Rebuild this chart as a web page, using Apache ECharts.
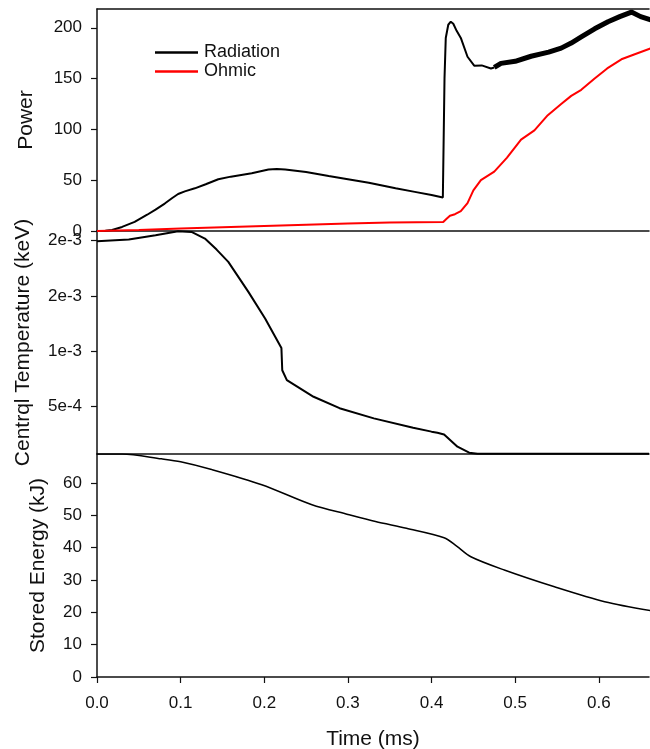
<!DOCTYPE html>
<html>
<head>
<meta charset="utf-8">
<script src="https://cdn.jsdelivr.net/npm/echarts@6/dist/echarts.min.js"></script>
<style>
  html, body { margin: 0; padding: 0; background: #fff; }
  #chart { width: 650px; height: 749px; }
</style>
</head>
<body>
<div id="chart"></div>
<script>
// Power (top panel): [time ms, power]
const radiation = [
  [0, 0], [0.01, 0.3], [0.018, 1], [0.03, 4], [0.045, 9], [0.06, 16], [0.07, 21],
  [0.081, 27], [0.09, 32.5], [0.097, 36.4], [0.105, 39], [0.117, 42], [0.13, 46],
  [0.145, 50.9], [0.16, 53.5], [0.185, 56.8], [0.205, 60.5], [0.215, 61], [0.225, 60.6],
  [0.25, 58], [0.277, 54.1], [0.3, 51], [0.325, 47.5], [0.357, 42], [0.38, 38.5],
  [0.4, 35.5], [0.4135, 33], [0.4155, 150], [0.417, 190], [0.42, 203], [0.423, 206],
  [0.426, 204], [0.43, 197], [0.435, 190], [0.443, 171.5], [0.451, 162.7], [0.46, 163],
  [0.471, 160], [0.475, 161]
];
// noisy late phase of the radiated power
const radiationLate = [
  [0.475, 161], [0.483, 165], [0.5, 167], [0.519, 172], [0.54, 176], [0.555, 180],
  [0.567, 185], [0.579, 191], [0.595, 199], [0.611, 206], [0.625, 211], [0.639, 215.5],
  [0.65, 211], [0.663, 207.5]
];
const ohmic = [
  [0, 0], [0.05, 1], [0.1, 2.5], [0.15, 3.8], [0.2, 5], [0.25, 6.2], [0.3, 7.3],
  [0.35, 8.3], [0.414, 8.8], [0.418, 12], [0.422, 15], [0.428, 16.5], [0.435, 19.5],
  [0.443, 27.5], [0.45, 40], [0.459, 50], [0.475, 58.5], [0.49, 72], [0.507, 90],
  [0.523, 99], [0.539, 114], [0.555, 125], [0.567, 133], [0.579, 139], [0.595, 150],
  [0.61, 160], [0.627, 169], [0.643, 174], [0.663, 180]
];
// Central temperature (middle panel): [time ms, keV]
const temperature = [
  [0, 1.995e-3], [0.038, 2.011e-3], [0.07, 2.05e-3], [0.097, 2.086e-3], [0.113, 2.08e-3],
  [0.129, 2.02e-3], [0.143, 1.92e-3], [0.157, 1.809e-3], [0.181, 1.538e-3],
  [0.201, 1.298e-3], [0.2205, 1.03e-3], [0.2215, 8.3e-4], [0.227, 7.41e-4],
  [0.259, 5.9e-4], [0.29, 4.87e-4], [0.2905, 5.05e-4], [0.331, 3.95e-4], [0.378, 3.1e-4],
  [0.379, 2.95e-4], [0.4, 2.75e-4], [0.407, 2.65e-4], [0.415, 2.5e-4], [0.431, 1.39e-4],
  [0.445, 8.5e-5], [0.455, 7.6e-5], [0.66, 7.6e-5]
];
// Stored energy (bottom panel): [time ms, kJ]
const storedEnergy = [
  [0, 69], [0.03, 69], [0.077, 67.5], [0.1, 66.6], [0.137, 64.2], [0.197, 59.5],
  [0.257, 53.3], [0.3, 50.3], [0.333, 48.1], [0.37, 46], [0.415, 43.1], [0.43, 40.5],
  [0.447, 37.2], [0.487, 33.1], [0.547, 27.9], [0.607, 23.3], [0.663, 20.5]
];
const tempTicks = [5e-4, 1e-3, 1.5e-3, 2e-3];
const tempTickLabels = ['5e-4', '1e-3', '2e-3', '2e-3'];

const FONT = 'Liberation Sans, Arial, sans-serif';
const INK = '#111';
const axisLine = { show: true, onZero: false, lineStyle: { color: INK, width: 1.5 } };
const tick = { show: true, length: 6, lineStyle: { color: INK, width: 1.2 } };
const tickLabel = {
  color: INK, fontSize: 17, fontFamily: FONT, margin: 15,
  showMaxLabel: false, showMinLabel: true
};
const nameText = { color: INK, fontSize: 21, fontFamily: FONT };

const plainX = (grid, position) => ({
  type: 'value', gridIndex: grid, min: 0, max: 0.66, interval: 0.1, position,
  axisLine, axisTick: { show: false }, axisLabel: { show: false }, splitLine: { show: false }
});

const gridBox = (top, height) => ({
  left: 97, right: 1, top, height, containLabel: false, outerBoundsMode: 'none'
});

const chart = echarts.init(document.getElementById('chart'), null, { renderer: 'canvas' });
chart.setOption({
  animation: false,
  backgroundColor: '#fff',
  grid: [gridBox(9, 222), gridBox(231, 223), gridBox(454, 223)],
  legend: {
    orient: 'vertical', left: 150, top: 38.5, itemWidth: 43, itemHeight: 2.5, itemGap: 1,
    data: [{ name: 'Radiation', icon: 'rect' }, { name: 'Ohmic', icon: 'rect' }],
    textStyle: { color: INK, fontSize: 18, fontFamily: FONT, padding: [0, 0, 0, 1] }
  },
  xAxis: [
    plainX(0, 'bottom'),
    plainX(1, 'bottom'),
    {
      type: 'value', gridIndex: 2, min: 0, max: 0.66, interval: 0.1,
      axisLine, axisTick: tick,
      axisLabel: Object.assign({}, tickLabel, { margin: 18, formatter: v => v.toFixed(1) }),
      splitLine: { show: false },
      name: 'Time (ms)', nameLocation: 'middle', nameGap: 52, nameTextStyle: nameText
    },
    plainX(0, 'top')
  ],
  yAxis: [
    {
      type: 'value', gridIndex: 0, min: 0, max: 218.5, interval: 50,
      axisLine, axisTick: tick, axisLabel: tickLabel, splitLine: { show: false },
      name: 'Power', nameLocation: 'middle', nameGap: 60, nameTextStyle: nameText
    },
    {
      type: 'value', gridIndex: 1, min: 7.3e-5, max: 2.088e-3,
      axisLine,
      axisTick: Object.assign({}, tick, { customValues: tempTicks }),
      axisLabel: Object.assign({}, tickLabel, {
        customValues: tempTicks, showMaxLabel: true,
        formatter: v => tempTickLabels[tempTicks.findIndex(t => Math.abs(t - v) < 1e-9)] || ''
      }),
      splitLine: { show: false },
      name: 'Centrql Temperature (keV)', nameLocation: 'middle', nameGap: 63,
      nameTextStyle: nameText
    },
    {
      type: 'value', gridIndex: 2, min: 0, max: 69, interval: 10,
      axisLine, axisTick: tick, axisLabel: tickLabel, splitLine: { show: false },
      name: 'Stored Energy (kJ)', nameLocation: 'middle', nameGap: 48, nameTextStyle: nameText
    }
  ],
  series: [
    {
      name: 'Radiation', type: 'line', xAxisIndex: 0, yAxisIndex: 0, data: radiation,
      symbol: 'none', lineStyle: { color: '#000', width: 2 }, itemStyle: { color: '#000' }
    },
    {
      name: 'Radiation', type: 'line', xAxisIndex: 0, yAxisIndex: 0, data: radiationLate,
      symbol: 'none', lineStyle: { color: '#000', width: 5 }, itemStyle: { color: '#000' }
    },
    {
      name: 'Ohmic', type: 'line', xAxisIndex: 0, yAxisIndex: 0, data: ohmic,
      symbol: 'none', lineStyle: { color: '#f00', width: 2 }, itemStyle: { color: '#f00' }
    },
    {
      name: 'Temperature', type: 'line', xAxisIndex: 1, yAxisIndex: 1, data: temperature,
      symbol: 'none', lineStyle: { color: '#000', width: 2 }
    },
    {
      name: 'Stored Energy', type: 'line', xAxisIndex: 2, yAxisIndex: 2, data: storedEnergy,
      symbol: 'none', smooth: 0.3, lineStyle: { color: '#000', width: 1.5 }
    }
  ]
});
</script>
</body>
</html>
